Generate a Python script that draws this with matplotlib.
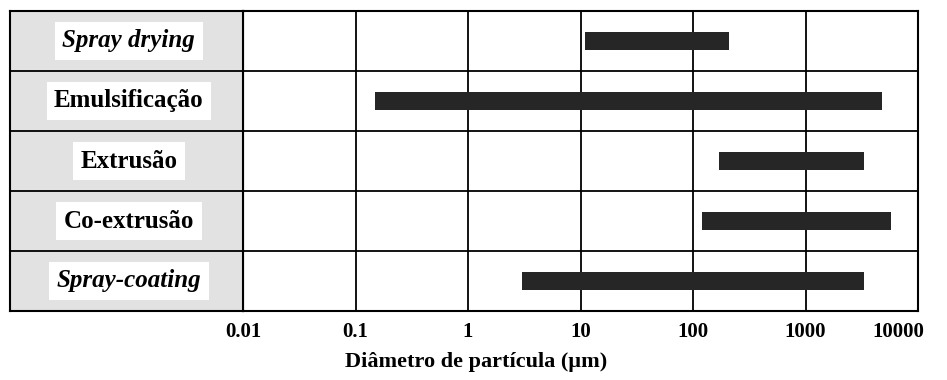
import matplotlib
matplotlib.use("Agg")
import matplotlib.pyplot as plt
import matplotlib.transforms as mtransforms

# tecnica de microencapsulacao e faixa de diametro (um)
methods = ["Spray drying", "Emulsificação", "Extrusão", "Co-extrusão", "Spray-coating"]
italic = [True, False, False, False, True]
size_min = [11, 0.15, 170, 120, 3]
size_max = [210, 4800, 3300, 5800, 3300]
ticks = [0.01, 0.1, 1, 10, 100, 1000, 10000]
tick_labels = ["0.01", "0.1", "1", "10", "100", "1000", "10000"]

SERIF = ["Liberation Serif", "DejaVu Serif"]

fig = plt.figure(figsize=(9.47, 3.8), dpi=100)
W, H = 947.0, 380.0
top, bottom = 11, 311
ax = fig.add_axes([243 / W, (H - bottom) / H, (918 - 243) / W, (bottom - top) / H])
lab = fig.add_axes([10 / W, (H - bottom) / H, (243 - 10) / W, (bottom - top) / H])

n = len(methods)
ypos = list(range(n))

# barras
widths = [b - a for a, b in zip(size_min, size_max)]
ax.barh(ypos, widths, left=size_min, height=0.3, color="#262626", zorder=3)
ax.set_xscale("log")
ax.set_xlim(0.01, 10000)
ax.set_ylim(n - 0.5, -0.5)
ax.set_yticks([])
ax.set_xticks(ticks)
ax.set_xticklabels(tick_labels, fontfamily=SERIF, fontweight="bold", fontsize=15)
ax.minorticks_off()
ax.tick_params(axis="x", length=0, pad=8)
# ultimo rotulo fica um pouco para a esquerda
lbls = ax.get_xticklabels()
off = mtransforms.ScaledTranslation(-20 / 100, 0, fig.dpi_scale_trans)
lbls[-1].set_transform(lbls[-1].get_transform() + off)

for t in ticks:
    ax.axvline(t, color="black", lw=1.3, zorder=2)
for i in range(n - 1):
    ax.axhline(i + 0.5, color="black", lw=1.3, zorder=2)
    lab.axhline(i + 0.5, color="black", lw=1.3, zorder=2)
for sp in ax.spines.values():
    sp.set_linewidth(1.5)

# coluna dos nomes
lab.set_facecolor("#e2e2e2")
lab.set_xlim(0, 1)
lab.set_ylim(n - 0.5, -0.5)
lab.set_xticks([])
lab.set_yticks([])
for sp in lab.spines.values():
    sp.set_linewidth(1.5)
for i, name in enumerate(methods):
    lab.text(0.51, i, name, ha="center", va="center", fontsize=18,
             fontfamily=SERIF, fontweight="bold",
             fontstyle="italic" if italic[i] else "normal",
             bbox=dict(boxstyle="square,pad=0.3", fc="white", ec="none"))

fig.text(476 / W, 1 - 362 / H, "Diâmetro de partícula (µm)", ha="center", va="center",
         fontsize=16, fontfamily=SERIF, fontweight="bold")

fig.savefig("out.png", dpi=100)
